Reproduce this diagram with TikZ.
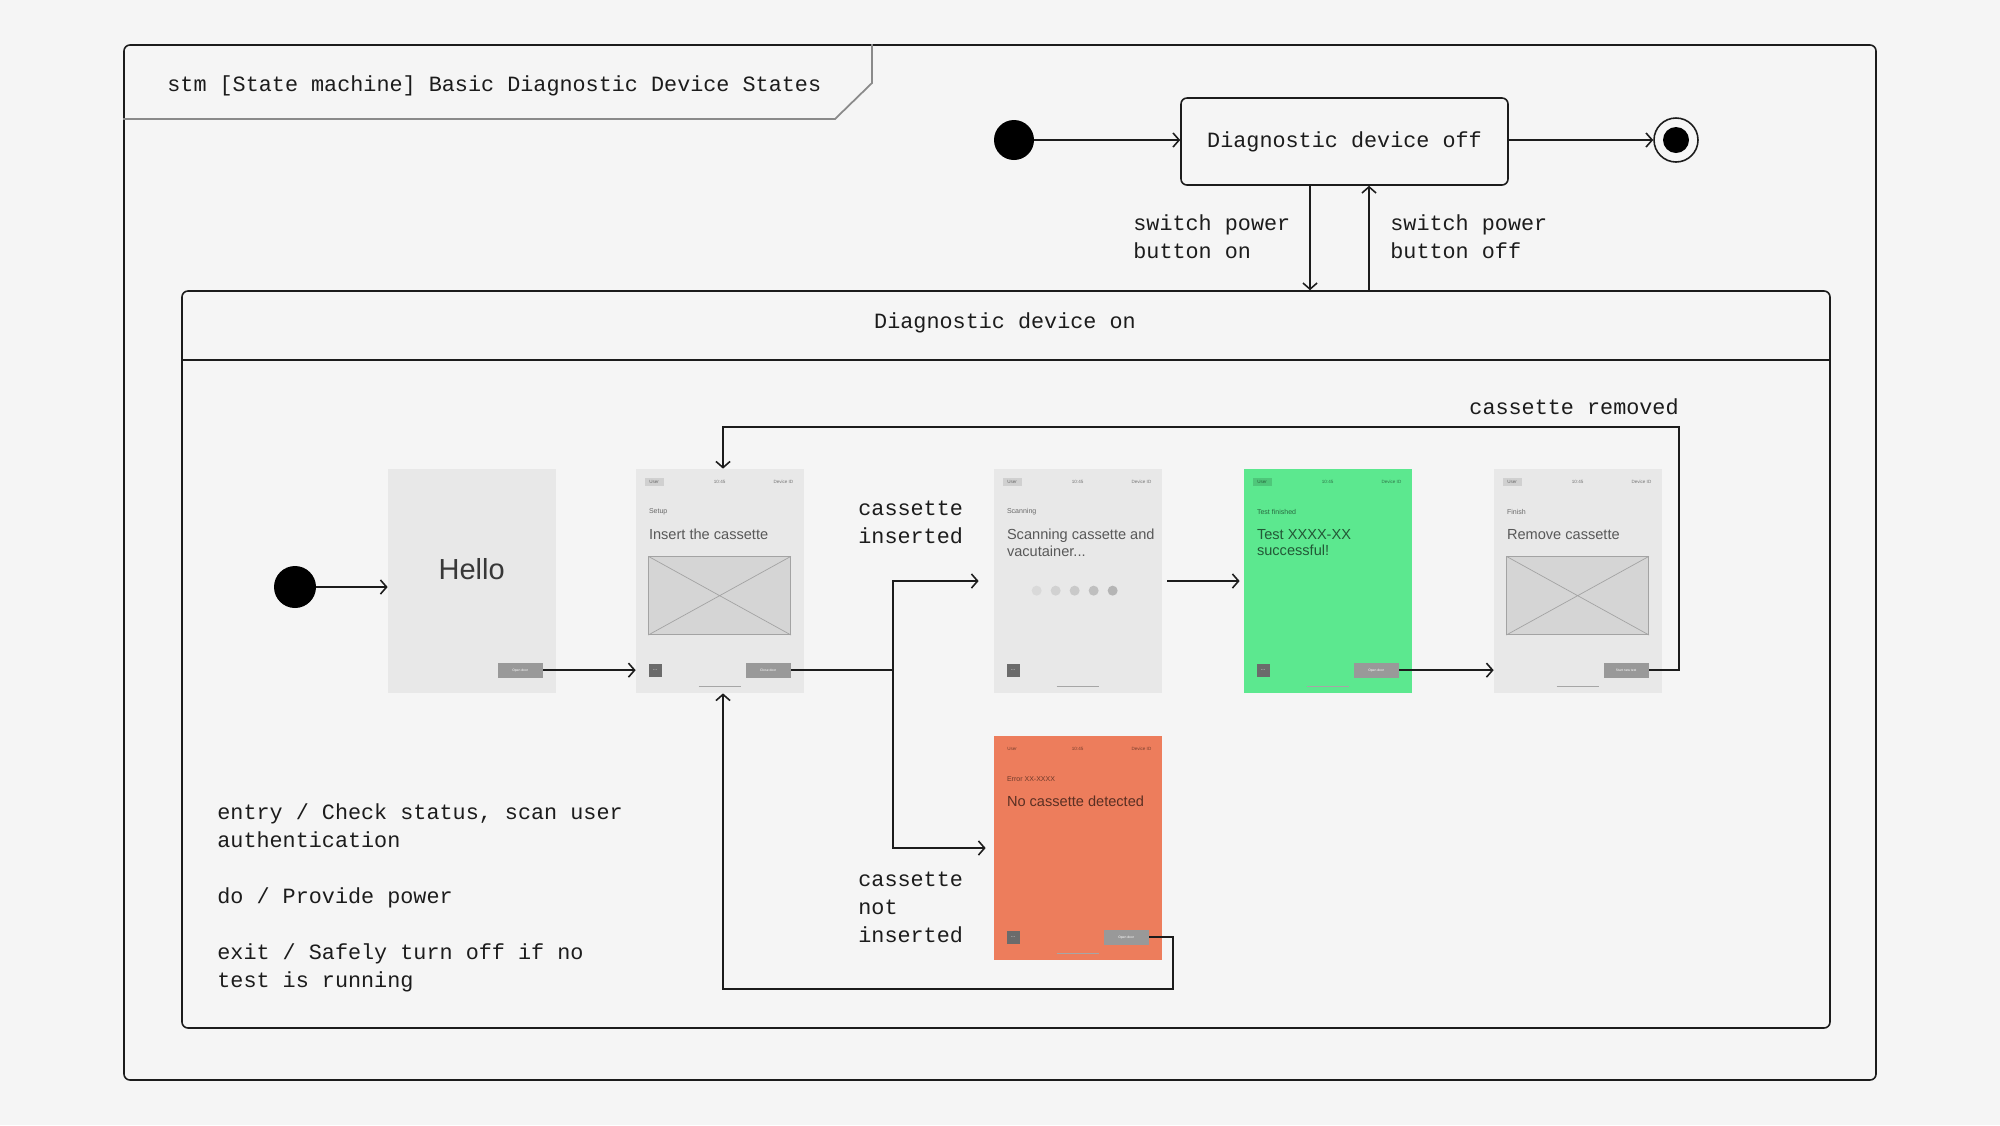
\documentclass[tikz,border=0pt]{standalone}
\usepackage{fontspec}
\setmainfont{Liberation Sans}
\setmonofont{Liberation Mono}
\usetikzlibrary{calc,positioning,arrows.meta}
\definecolor{PageClr}{rgb}{0.961,0.961,0.961}
\definecolor{InkClr}{rgb}{0.11,0.11,0.11}
\definecolor{TabClr}{rgb}{0.54,0.54,0.54}
\definecolor{ScreenClr}{rgb}{0.91,0.91,0.91}
\definecolor{OkClr}{rgb}{0.36,0.91,0.56}
\definecolor{ErrClr}{rgb}{0.93,0.49,0.36}
\definecolor{BtnClr}{rgb}{0.6,0.6,0.6}
\definecolor{MoreClr}{rgb}{0.42,0.42,0.42}
\definecolor{ImgClr}{rgb}{0.835,0.835,0.835}
\definecolor{ImgLineClr}{rgb}{0.64,0.64,0.64}

\begin{document}
\begin{tikzpicture}[x=0.2mm,y=-0.2mm,
  every node/.style={inner sep=0pt},
  mono/.style={font=\ttfamily\fontsize{12.4}{15.9}\selectfont,text=InkClr,align=left},
  line/.style={draw=InkClr,line width=0.9pt},
  arr/.style={line,-{Straight Barb[length=3.5pt,width=8pt]}},
  dot/.style={circle,fill=black,minimum size=8.2mm},
  state/.style={draw=InkClr,line width=0.9pt,rounded corners=1.2mm},
  screen/.style={minimum width=33.6mm,minimum height=44.8mm,fill=ScreenClr},
  btn/.style={minimum width=9mm,minimum height=3mm,fill=BtnClr,text=white,font=\fontsize{1.9}{2}\selectfont},
  more/.style={minimum size=2.6mm,fill=MoreClr,text=white,font=\fontsize{3}{3}\selectfont},
  tiny/.style={font=\fontsize{2.6}{3}\selectfont,text=black,text opacity=0.5},
  small/.style={font=\fontsize{4}{5}\selectfont,text=black,text opacity=0.55,anchor=west},
  big/.style={font=\fontsize{8.3}{9.5}\selectfont,text=black,text opacity=0.62,align=left,anchor=north west},
  img/.style={minimum width=28.4mm,minimum height=15.6mm,fill=ImgClr,draw=ImgLineClr,line width=0.4pt},
]
\fill[PageClr] (0,0) rectangle (2000,1125);

% frame and title tab
\node[state,minimum width=350.4mm,minimum height=207mm] (stm) at (1000,562.5) {};
\draw[TabClr,line width=1pt] (stm.west |- 0,119) -- (835,119) -- (872,83) -- (stm.north -| 872,0);
\node[mono,anchor=west] (title) at (167,86) {stm [State machine] Basic Diagnostic Device States};

% device off
\node[dot,minimum size=8mm] (init) at (1014,140) {};
\node[state,minimum width=65.4mm,minimum height=17.4mm,mono] (off) at (1344.5,141.5) {Diagnostic device off};
\node[circle,draw=InkClr,line width=0.9pt,minimum size=8.8mm] (final) at (1676,140) {};
\node[dot,minimum size=5.2mm] (final-dot) at (final) {};
\draw[arr] (init) -- (off.west |- init);
\draw[arr] (off.east |- final) -- (final);

% device on
\node[state,minimum width=329.6mm,minimum height=147.4mm] (on) at (1006,659.5) {};
\coordinate (hdr) at (0,360);
\draw[line] (on.west |- hdr) -- (on.east |- hdr);
\node[mono] (on-title) at (1005,323) {Diagnostic device on};

\coordinate (swon) at (1310,0);
\coordinate (swoff) at (1369,0);
\draw[arr] (off.south -| swon) -- (on.north -| swon);
\draw[arr] (on.north -| swoff) -- (off.south -| swoff);
\node[mono,anchor=west] (lbl-on) at (1133,237) {switch power\\button on};
\node[mono,anchor=west] (lbl-off) at (1390,237) {switch power\\button off};

% screens
\node[screen] (hello) at (472,581) {};
\node[screen] (insert) at (720,581) {};
\node[screen] (scan) at (1078,581) {};
\node[screen,fill=OkClr] (test) at (1328,581) {};
\node[screen] (remove) at (1578,581) {};
\node[screen,fill=ErrClr] (error) at (1078,848) {};

\foreach \s/\o in {insert/0.1,scan/0.1,test/0.14,remove/0.1,error/0}{
  \node[tiny,fill=black,fill opacity=\o,minimum width=3.8mm,minimum height=1.6mm] (\s-user) at ($(\s.north west)+(18.5,13)$) {User};
  \node[tiny] (\s-time) at ($(\s.north west)+(84,13)$) {10:45};
  \node[tiny,anchor=east] (\s-id) at ($(\s.north west)+(158,13)$) {Device ID};
  \draw[black!35,line width=0.4pt] ($(\s.north west)+(63,218)$) -- ($(\s.north west)+(105,218)$);
}

\node[font=\fontsize{16.5}{18}\selectfont,text=black!78] (hello-txt) at ($(hello.north west)+(84,100)$) {Hello};
\node[btn] (hello-btn) at ($(hello.north west)+(132.5,201.5)$) {Open door};

\node[small] (insert-step) at ($(insert.north west)+(13,43)$) {Setup};
\node[big] (insert-txt) at ($(insert.north west)+(13,60)$) {Insert the cassette};
\node[img] (insert-img) at ($(insert.north west)+(84,127)$) {};
\draw[ImgLineClr,line width=0.4pt] (insert-img.north west) -- (insert-img.south east) (insert-img.south west) -- (insert-img.north east);
\node[more] (insert-more) at ($(insert.north west)+(19.5,201.5)$) {...};
\node[btn] (insert-btn) at ($(insert.north west)+(132.5,201.5)$) {Close door};

\node[small] (scan-step) at ($(scan.north west)+(13,43)$) {Scanning};
\node[big] (scan-txt) at ($(scan.north west)+(13,60)$) {Scanning cassette and\\vacutainer...};
\foreach \i/\c in {0/15,1/18,2/21,3/25,4/29}
  \node[circle,fill=black!\c,minimum size=2mm] (scan-dot\i) at ($(scan.north west)+(43+19*\i,122)$) {};
\node[more] (scan-more) at ($(scan.north west)+(19.5,201.5)$) {...};

\node[small] (test-step) at ($(test.north west)+(13,43)$) {Test finished};
\node[big] (test-txt) at ($(test.north west)+(13,60)$) {Test XXXX-XX\\successful!};
\node[more] (test-more) at ($(test.north west)+(19.5,201.5)$) {...};
\node[btn] (test-btn) at ($(test.north west)+(132.5,201.5)$) {Open door};

\node[small] (remove-step) at ($(remove.north west)+(13,43)$) {Finish};
\node[big] (remove-txt) at ($(remove.north west)+(13,60)$) {Remove cassette};
\node[img] (remove-img) at ($(remove.north west)+(84,127)$) {};
\draw[ImgLineClr,line width=0.4pt] (remove-img.north west) -- (remove-img.south east) (remove-img.south west) -- (remove-img.north east);
\node[btn] (remove-btn) at ($(remove.north west)+(132.5,201.5)$) {Start new test};

\node[small] (error-step) at ($(error.north west)+(13,43)$) {Error XX-XXXX};
\node[big] (error-txt) at ($(error.north west)+(13,60)$) {No cassette detected};
\node[more] (error-more) at ($(error.north west)+(19.5,201.5)$) {...};
\node[btn] (error-btn) at ($(error.north west)+(132.5,201.5)$) {Open door};

% transitions
\node[dot,minimum size=8.4mm] (start) at (295,587) {};
\draw[arr] (start) -- (hello.west |- start);
\draw[arr] (hello-btn.east) -- (insert.west |- hello-btn.east);

\coordinate (forkx) at (893,0);
\coordinate (fork) at (insert-btn.east -| forkx);
\draw[arr,shorten >=3mm] (insert-btn.east) -- (fork) |- (scan.west);
\draw[arr,shorten >=1.6mm] (fork) |- (error.west);
\draw[arr,shorten <=1mm,shorten >=0.8mm] (scan.east) -- (test.west);
\draw[arr] (test-btn.east) -- (remove.west |- test-btn.east);

\coordinate (backx) at (723,0);
\coordinate (loopr) at (1679,427);
\draw[arr] (remove-btn.east) -| (loopr) -| (insert.north -| backx);
\coordinate (loopb) at (1173,989);
\draw[arr] (error-btn.east) -| (loopb) -| (insert.south -| backx);

\node[mono,anchor=east] (lbl-rem) at ($(loopr)+(0,-20)$) {cassette removed};
\node[mono,anchor=west] (lbl-ins) at (858,522) {cassette\\inserted};
\node[mono,anchor=west] (lbl-not) at (858,907) {cassette\\not\\inserted};

\node[mono,anchor=west] (acts) at (217,898) {entry / Check status, scan user\\authentication\\[15.9pt]do / Provide power\\[15.9pt]exit / Safely turn off if no\\test is running};
\end{tikzpicture}
\end{document}
